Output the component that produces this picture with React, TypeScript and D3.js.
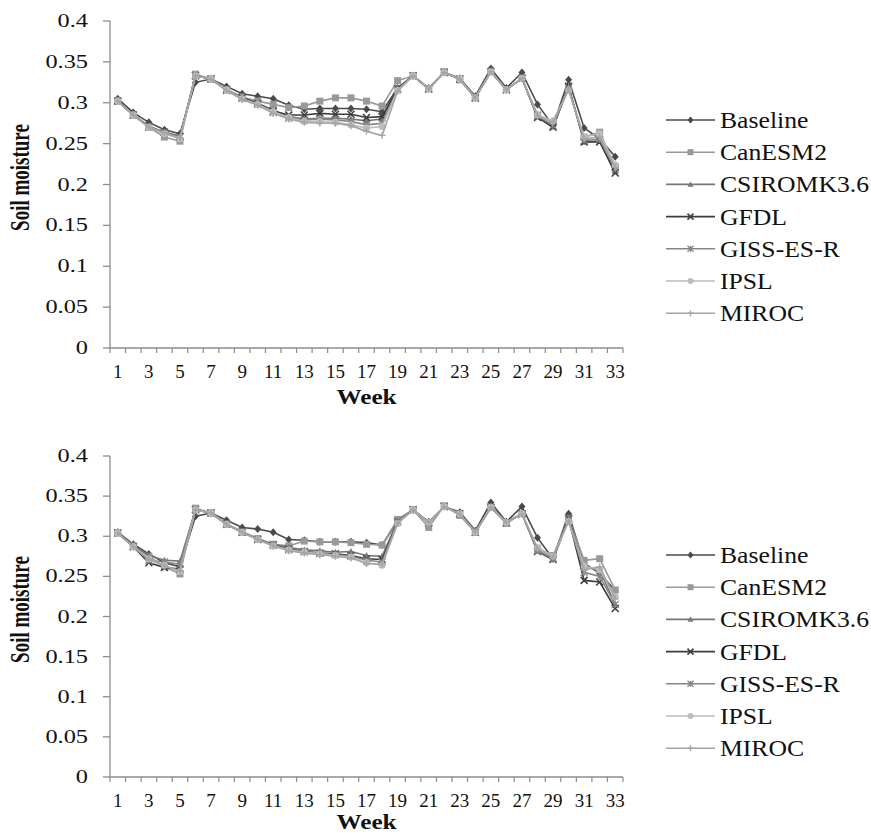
import React from "react";
import * as d3 from "d3";

const weeks: number[] = d3.range(1, 34);
const seriesNames = ["Baseline", "CanESM2", "CSIROMK3.6", "GFDL", "GISS-ES-R", "IPSL", "MIROC"];
const yTicks = [0, 0.05, 0.1, 0.15, 0.2, 0.25, 0.3, 0.35, 0.4];
const yTickLabels = ["0", "0.05", "0.1", "0.15", "0.2", "0.25", "0.3", "0.35", "0.4"];

const topBaseline = [0.305, 0.288, 0.276, 0.267, 0.262, 0.325, 0.329, 0.320, 0.311, 0.308, 0.305, 0.297, 0.292, 0.293, 0.293, 0.293, 0.292, 0.289, 0.318, 0.333, 0.318, 0.337, 0.330, 0.308, 0.342, 0.318, 0.337, 0.298, 0.272, 0.328, 0.269, 0.256, 0.234];
const topCanESM2 = [0.302, 0.285, 0.270, 0.258, 0.253, 0.335, 0.329, 0.316, 0.307, 0.302, 0.298, 0.294, 0.296, 0.302, 0.306, 0.306, 0.302, 0.296, 0.327, 0.333, 0.317, 0.338, 0.328, 0.306, 0.338, 0.316, 0.330, 0.285, 0.276, 0.316, 0.258, 0.264, 0.222];
const topCSIRO = [0.302, 0.285, 0.271, 0.263, 0.258, 0.333, 0.329, 0.316, 0.306, 0.299, 0.291, 0.283, 0.280, 0.281, 0.281, 0.280, 0.278, 0.280, 0.318, 0.333, 0.317, 0.337, 0.329, 0.307, 0.338, 0.316, 0.330, 0.283, 0.271, 0.319, 0.252, 0.253, 0.216];
const topGFDL = [0.302, 0.285, 0.271, 0.264, 0.259, 0.333, 0.329, 0.316, 0.306, 0.299, 0.290, 0.285, 0.285, 0.287, 0.286, 0.286, 0.282, 0.283, 0.317, 0.333, 0.317, 0.337, 0.329, 0.306, 0.338, 0.316, 0.330, 0.282, 0.270, 0.320, 0.252, 0.252, 0.214];
const topGISS = [0.302, 0.285, 0.271, 0.264, 0.258, 0.333, 0.329, 0.315, 0.305, 0.298, 0.288, 0.281, 0.279, 0.280, 0.279, 0.277, 0.273, 0.275, 0.316, 0.333, 0.317, 0.337, 0.329, 0.306, 0.338, 0.316, 0.330, 0.284, 0.272, 0.318, 0.254, 0.255, 0.219];
const topIPSL = [0.302, 0.285, 0.270, 0.262, 0.256, 0.333, 0.329, 0.316, 0.305, 0.298, 0.289, 0.282, 0.277, 0.277, 0.276, 0.273, 0.269, 0.271, 0.315, 0.333, 0.317, 0.337, 0.329, 0.306, 0.338, 0.316, 0.330, 0.285, 0.278, 0.315, 0.258, 0.262, 0.224];
const topMIROC = [0.302, 0.285, 0.270, 0.263, 0.257, 0.333, 0.329, 0.315, 0.304, 0.297, 0.287, 0.280, 0.276, 0.275, 0.275, 0.272, 0.265, 0.260, 0.314, 0.333, 0.317, 0.337, 0.329, 0.306, 0.338, 0.316, 0.330, 0.284, 0.276, 0.317, 0.256, 0.258, 0.221];

const botBaseline = [0.305, 0.290, 0.278, 0.267, 0.262, 0.325, 0.329, 0.320, 0.311, 0.309, 0.305, 0.296, 0.295, 0.293, 0.293, 0.293, 0.292, 0.289, 0.319, 0.333, 0.318, 0.337, 0.330, 0.307, 0.342, 0.318, 0.337, 0.298, 0.272, 0.328, 0.266, 0.254, 0.232];
const botCanESM2 = [0.304, 0.288, 0.275, 0.262, 0.253, 0.335, 0.329, 0.315, 0.305, 0.297, 0.290, 0.288, 0.294, 0.293, 0.293, 0.292, 0.290, 0.289, 0.321, 0.333, 0.311, 0.338, 0.326, 0.305, 0.336, 0.316, 0.328, 0.285, 0.276, 0.322, 0.270, 0.272, 0.233];
const botCSIRO = [0.304, 0.288, 0.276, 0.270, 0.269, 0.333, 0.329, 0.315, 0.306, 0.297, 0.290, 0.286, 0.283, 0.282, 0.280, 0.281, 0.276, 0.275, 0.319, 0.333, 0.317, 0.337, 0.328, 0.305, 0.336, 0.318, 0.328, 0.283, 0.273, 0.323, 0.262, 0.258, 0.215];
const botGFDL = [0.304, 0.287, 0.267, 0.261, 0.259, 0.333, 0.329, 0.315, 0.305, 0.296, 0.289, 0.284, 0.281, 0.279, 0.278, 0.276, 0.272, 0.271, 0.318, 0.333, 0.317, 0.337, 0.328, 0.305, 0.336, 0.317, 0.328, 0.281, 0.271, 0.322, 0.245, 0.243, 0.210];
const botGISS = [0.304, 0.287, 0.270, 0.268, 0.265, 0.333, 0.329, 0.315, 0.305, 0.296, 0.289, 0.283, 0.281, 0.279, 0.277, 0.275, 0.270, 0.268, 0.318, 0.333, 0.317, 0.337, 0.328, 0.305, 0.336, 0.317, 0.328, 0.282, 0.272, 0.321, 0.255, 0.250, 0.215];
const botIPSL = [0.304, 0.287, 0.272, 0.264, 0.256, 0.333, 0.329, 0.315, 0.305, 0.296, 0.288, 0.283, 0.280, 0.278, 0.276, 0.274, 0.267, 0.264, 0.316, 0.333, 0.317, 0.337, 0.328, 0.305, 0.336, 0.317, 0.328, 0.286, 0.275, 0.318, 0.263, 0.258, 0.225];
const botMIROC = [0.304, 0.287, 0.271, 0.263, 0.257, 0.333, 0.329, 0.315, 0.305, 0.296, 0.288, 0.282, 0.279, 0.277, 0.275, 0.273, 0.266, 0.265, 0.316, 0.333, 0.317, 0.337, 0.328, 0.305, 0.336, 0.317, 0.328, 0.284, 0.274, 0.319, 0.258, 0.262, 0.222];

const topSeries = [topBaseline, topCanESM2, topCSIRO, topGFDL, topGISS, topIPSL, topMIROC];
const botSeries = [botBaseline, botCanESM2, botCSIRO, botGFDL, botGISS, botIPSL, botMIROC];

const colors = ["#4a4a4a", "#999999", "#777777", "#3c3c3c", "#858585", "#bdbdbd", "#a5a5a5"];
const markerKinds = ["diamond", "square", "triangle", "x", "star", "circle", "plus"];

const FONT = "'Liberation Serif', 'Times New Roman', serif";

function Marker({ kind, x, y, color, s }: { kind: string; x: number; y: number; color: string; s: number }) {
  const h = s / 2;
  switch (kind) {
    case "diamond":
      return <path d={`M${x},${y - h - 0.5}L${x + h},${y}L${x},${y + h + 0.5}L${x - h},${y}Z`} fill={color} />;
    case "square":
      return <rect x={x - h} y={y - h} width={s} height={s} fill={color} />;
    case "triangle":
      return <path d={`M${x},${y - h}L${x + h},${y + h * 0.8}L${x - h},${y + h * 0.8}Z`} fill={color} />;
    case "x":
      return <path d={`M${x - h},${y - h}L${x + h},${y + h}M${x - h},${y + h}L${x + h},${y - h}`} stroke={color} strokeWidth={1.5} />;
    case "star":
      return (
        <path
          d={`M${x - h},${y - h}L${x + h},${y + h}M${x - h},${y + h}L${x + h},${y - h}M${x},${y - h}L${x},${y + h}`}
          stroke={color}
          strokeWidth={1.3}
        />
      );
    case "circle":
      return <circle cx={x} cy={y} r={h} fill={color} />;
    case "plus":
      return <path d={`M${x - h},${y}L${x + h},${y}M${x},${y - h}L${x},${y + h}`} stroke={color} strokeWidth={1.3} />;
    default:
      return null;
  }
}

function Panel({ series, top, bottom, weekOffset }: { series: number[][]; top: number; bottom: number; weekOffset: number }) {
  const left = 110;
  const right = 623;
  const x = d3.scaleBand<number>().domain(weeks).range([left, right]);
  const y = d3.scaleLinear().domain([0, 0.4]).range([bottom, top]);
  const line = d3
    .line<number>()
    .x((_, i) => (x(weeks[i]) as number) + x.bandwidth() / 2)
    .y((d) => y(d));
  const axisColor = "#8c8c8c";
  const legendTop = top + 99;
  const boundaries = d3.range(0, weeks.length + 1).map((i) => left + i * x.bandwidth());
  return (
    <g>
      <line x1={left} x2={left} y1={top} y2={bottom} stroke={axisColor} strokeWidth={1.3} />
      {yTicks.map((t, i) => (
        <g key={"yt" + i}>
          <line x1={left - 7} x2={left} y1={y(t)} y2={y(t)} stroke={axisColor} strokeWidth={1.3} />
          <text
            transform={`translate(88,${y(t) + 6}) scale(1.28,1)`}
            textAnchor="end"
            fontFamily={FONT}
            fontSize={19}
            fill="#111"
          >
            {yTickLabels[i]}
          </text>
        </g>
      ))}
      <line x1={left} x2={right} y1={bottom} y2={bottom} stroke={axisColor} strokeWidth={1.3} />
      {boundaries.map((bx, i) => (
        <line key={"xb" + i} x1={bx} x2={bx} y1={bottom} y2={bottom + 5} stroke={axisColor} strokeWidth={1.2} />
      ))}
      {weeks
        .filter((w) => w % 2 === 1)
        .map((w) => (
          <text
            key={"xl" + w}
            x={(x(w) as number) + x.bandwidth() / 2}
            y={bottom + 30}
            textAnchor="middle"
            fontFamily={FONT}
            fontSize={19}
            fill="#111"
          >
            {w}
          </text>
        ))}
      <text
        transform={`translate(${(left + right) / 2},${bottom + weekOffset}) scale(1.2,1)`}
        textAnchor="middle"
        fontFamily={FONT}
        fontSize={21}
        fontWeight="bold"
        fill="#111"
      >
        Week
      </text>
      <text
        transform={`translate(29,${(top + bottom) / 2 - 7}) rotate(-90) scale(1,1.4)`}
        textAnchor="middle"
        fontFamily={FONT}
        fontSize={19}
        fontWeight="bold"
        fill="#111"
      >
        Soil moisture
      </text>
      {series.map((s, si) => (
        <g key={"s" + si}>
          <path d={line(s) as string} fill="none" stroke={colors[si]} strokeWidth={1.6} />
          {s.map((v, i) => (
            <Marker
              key={i}
              kind={markerKinds[si]}
              x={(x(weeks[i]) as number) + x.bandwidth() / 2}
              y={y(v)}
              color={colors[si]}
              s={7}
            />
          ))}
        </g>
      ))}
      {seriesNames.map((n, i) => {
        const ly = legendTop + i * 32.2;
        return (
          <g key={"lg" + i}>
            <line x1={666} x2={715} y1={ly} y2={ly} stroke={colors[i]} strokeWidth={1.6} />
            <Marker kind={markerKinds[i]} x={690.5} y={ly} color={colors[i]} s={6} />
            <text x={720} y={ly + 8} fontFamily={FONT} fontSize={24} fill="#111" transform={`translate(${720 * -0.07},0) scale(1.07,1)`}>
              {n}
            </text>
          </g>
        );
      })}
    </g>
  );
}

export default function App() {
  return (
    <svg
      width={871}
      height={836}
      viewBox="0 0 871 836"
      style={{ position: "absolute", left: 0, top: 0, background: "#fff" }}
    >
      <rect x={0} y={0} width={871} height={836} fill="#fff" />
      <Panel series={topSeries} top={21} bottom={348} weekOffset={56} />
      <Panel series={botSeries} top={456} bottom={777} weekOffset={52} />
    </svg>
  );
}
